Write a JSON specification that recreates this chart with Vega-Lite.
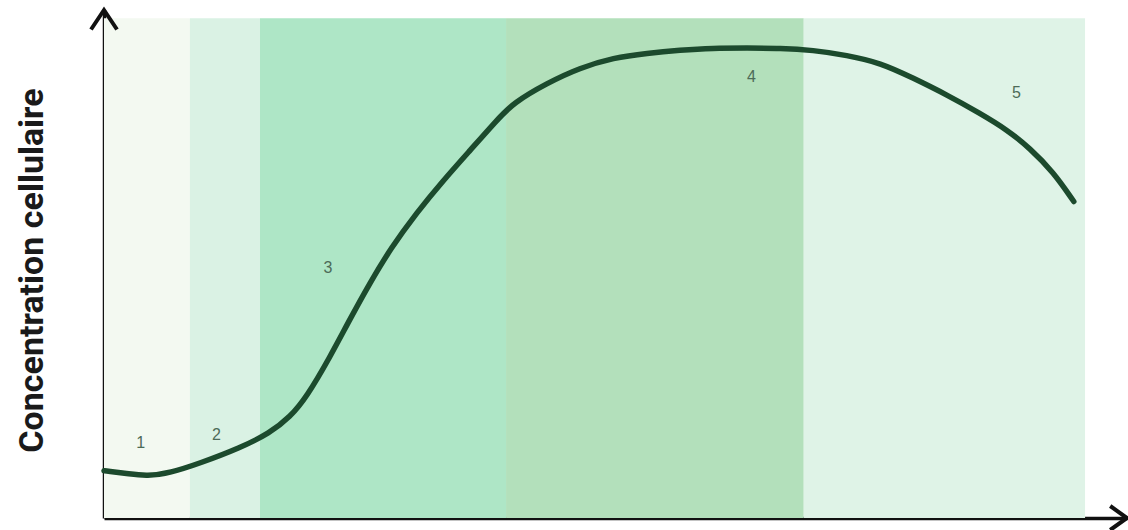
{
  "$schema": "https://vega.github.io/schema/vega-lite/v6.json",
  "autosize": "none",
  "width": 1023,
  "height": 508,
  "padding": {"left": 104, "top": 10, "right": 1, "bottom": 12},
  "background": "white",
  "config": {"view": {"stroke": null}},
  "datasets": {
    "phases": [
      {"phase": "1", "start": 0, "end": 8.4},
      {"phase": "2", "start": 8.4, "end": 15.25},
      {"phase": "3", "start": 15.25, "end": 39.3},
      {"phase": "4", "start": 39.3, "end": 68.4},
      {"phase": "5", "start": 68.4, "end": 95.9}
    ],
    "curve": [
      {"t": 0.0, "v": 9.3}, {"t": 0.3, "v": 9.25}, {"t": 2.5, "v": 8.66}, {"t": 4.2, "v": 8.27}, {"t": 6.45, "v": 8.86},
      {"t": 9.4, "v": 10.8}, {"t": 13.3, "v": 13.8}, {"t": 16.2, "v": 16.7}, {"t": 18.2, "v": 19.9},
      {"t": 19.8, "v": 23.8}, {"t": 22.1, "v": 31.7}, {"t": 24.0, "v": 39.0}, {"t": 26.0, "v": 46.3},
      {"t": 28.0, "v": 53.0}, {"t": 30.6, "v": 60.2}, {"t": 33.1, "v": 66.3}, {"t": 35.8, "v": 72.4},
      {"t": 38.4, "v": 78.3}, {"t": 40.0, "v": 81.7}, {"t": 43.3, "v": 85.6}, {"t": 46.5, "v": 88.6},
      {"t": 49.8, "v": 90.6}, {"t": 53.1, "v": 91.5}, {"t": 56.3, "v": 92.1}, {"t": 59.5, "v": 92.5},
      {"t": 62.9, "v": 92.5}, {"t": 66.1, "v": 92.5}, {"t": 69.3, "v": 92.1}, {"t": 72.6, "v": 91.1},
      {"t": 75.9, "v": 89.6}, {"t": 79.1, "v": 86.6}, {"t": 82.4, "v": 83.3}, {"t": 85.6, "v": 79.7},
      {"t": 88.3, "v": 76.4}, {"t": 90.5, "v": 72.8}, {"t": 92.8, "v": 68.1}, {"t": 94.7, "v": 62.6}, {"t": 94.8, "v": 62.3}
    ],
    "labels": [
      {"label": "1", "t": 3.6, "v": 14.8},
      {"label": "2", "t": 11.0, "v": 16.3},
      {"label": "3", "t": 21.9, "v": 49.2},
      {"label": "4", "t": 63.3, "v": 86.8},
      {"label": "5", "t": 89.2, "v": 83.7}
    ],
    "yarrow": [{"t": 0, "v": 100}],
    "xarrow": [{"t": 100, "v": 0}]
  },
  "layer": [
    {
      "data": {"name": "phases"},
      "mark": {"type": "rect"},
      "encoding": {
        "x": {"field": "start", "type": "quantitative", "scale": {"domain": [0, 100], "nice": false, "zero": false},
              "axis": {"title": null, "labels": false, "ticks": false, "grid": false, "domainColor": "#111111", "domainWidth": 3.5}},
        "x2": {"field": "end"},
        "y": {"datum": 0, "type": "quantitative", "scale": {"domain": [0, 100], "nice": false},
              "axis": {"title": "Concentration cellulaire", "labels": false, "ticks": false, "grid": false,
                       "domainColor": "#111111", "domainWidth": 3.5,
                       "titleAngle": -90, "titleX": -72, "titleY": 260, "titleAlign": "center", "titleBaseline": "middle",
                       "titleFont": "Roboto", "titleFontSize": 34, "titleFontWeight": "bold", "titleColor": "#1a1a1a"}},
        "y2": {"datum": 98.4},
        "color": {"field": "phase", "type": "nominal", "legend": null,
                  "scale": {"domain": ["1", "2", "3", "4", "5"], "range": ["#f3f9f1", "#daf2e4", "#aee6c6", "#b3e0bb", "#dff3e7"]}}
      }
    },
    {
      "data": {"name": "curve"},
      "mark": {"type": "line", "interpolate": "basis", "color": "#1c4a2d", "strokeWidth": 5.5, "strokeCap": "round"},
      "encoding": {
        "x": {"field": "t", "type": "quantitative"},
        "y": {"field": "v", "type": "quantitative"}
      }
    },
    {
      "data": {"name": "labels"},
      "mark": {"type": "text", "font": "Liberation Sans", "fontSize": 16, "color": "#4d6b58", "align": "center", "baseline": "middle"},
      "encoding": {
        "x": {"field": "t", "type": "quantitative"},
        "y": {"field": "v", "type": "quantitative"},
        "text": {"field": "label"}
      }
    },
    {
      "data": {"name": "yarrow"},
      "mark": {"type": "point", "shape": "M-1,1.5L0,0L1,1.5", "size": 676, "filled": false, "stroke": "#111111", "strokeWidth": 4, "opacity": 1},
      "encoding": {
        "x": {"field": "t", "type": "quantitative"},
        "y": {"field": "v", "type": "quantitative"}
      }
    },
    {
      "data": {"name": "xarrow"},
      "mark": {"type": "point", "shape": "M-1.4,-1L0,0L-1.4,1", "size": 576, "filled": false, "stroke": "#111111", "strokeWidth": 4, "opacity": 1},
      "encoding": {
        "x": {"field": "t", "type": "quantitative"},
        "y": {"field": "v", "type": "quantitative"}
      }
    }
  ]
}
